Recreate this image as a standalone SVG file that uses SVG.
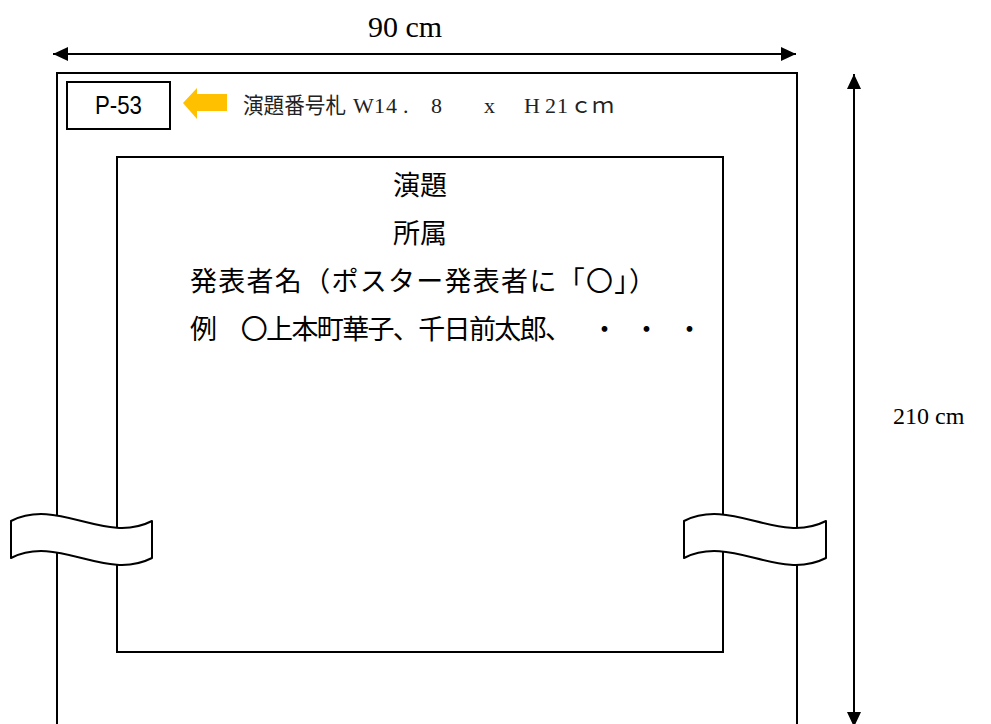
<svg xmlns="http://www.w3.org/2000/svg" width="991" height="724" viewBox="0 0 991 724">
<style>
.frame{fill:none;stroke:#000;stroke-width:2}
.band{fill:#fff;stroke:#000;stroke-width:2;stroke-linejoin:round}
.dim{stroke:#000;stroke-width:2;fill:none}
.serif{font-family:"Liberation Serif","Noto Sans CJK JP",serif;fill:#000}
.mincho{font-family:"Liberation Serif","Noto Sans CJK JP",serif;fill:#222;font-size:22px}
.minchoj{font-family:"Noto Sans CJK JP","Liberation Serif",serif;fill:#222;font-size:22px}
.goth{font-family:"Noto Sans CJK JP","Liberation Sans",sans-serif;fill:#000;font-size:27px}
.num{font-family:"Liberation Sans","Noto Sans CJK JP",sans-serif;fill:#000;font-size:25px}
</style>
<defs>
<marker id="ah" markerUnits="userSpaceOnUse" markerWidth="16" markerHeight="16" refX="15" refY="8" orient="auto-start-reverse" viewBox="0 0 16 16">
<path d="M0,1 L15,8 L0,15 Z" fill="#000"/>
</marker>
</defs>
<rect width="991" height="724" fill="#fff"/>
<g id="board">
<rect class="frame" x="57" y="73" width="740" height="700"/>
</g>
<g id="poster">
<rect class="frame" x="117" y="157" width="606" height="495"/>
<text class="goth" x="420" y="195" text-anchor="middle">演題</text>
<text class="goth" x="420" y="243" text-anchor="middle">所属</text>
<text class="goth" x="190" y="291" textLength="466" lengthAdjust="spacing">発表者名（ポスター発表者に「〇」）</text>
<text class="goth" x="190" y="339"><tspan textLength="382" lengthAdjust="spacing">例　〇上本町華子、千日前太郎、</tspan><tspan x="591">・</tspan><tspan x="633">・</tspan><tspan x="676">・</tspan></text>
</g>
<g id="number-card">
<rect class="frame" x="67" y="82" width="103" height="47"/>
<text class="num" x="95" y="114" textLength="47" lengthAdjust="spacingAndGlyphs">P-53</text>
</g>
<g id="pointer">
<polygon points="183,103 197,88 197,94 227,94 227,111 197,111 197,119" fill="#FFC000"/>
<text class="minchoj" x="243" y="113" textLength="103" lengthAdjust="spacingAndGlyphs">演題番号札</text>
<text class="mincho" y="113"><tspan x="353 374 386 403 431">W14.8</tspan><tspan x="484">x</tspan><tspan x="524 545 557">H21</tspan><tspan x="570 592">ｃｍ</tspan></text>
</g>
<g id="break-left">
<path class="band" d="M11,521 C58,497 105,545 152,521 L152,558 C105,582 58,534 11,558 Z"/>
</g>
<g id="break-right">
<path class="band" d="M684,521 C731,497 779,545 826,521 L826,558 C779,582 731,534 684,558 Z"/>
</g>
<g id="connectors">
<line class="dim" x1="53" y1="54" x2="796" y2="54" marker-start="url(#ah)" marker-end="url(#ah)"/>
<line class="dim" x1="854" y1="74" x2="854" y2="727" marker-start="url(#ah)" marker-end="url(#ah)"/>
<text class="serif" x="405" y="37" font-size="30" text-anchor="middle">90 cm</text>
<text class="serif" x="893" y="424" font-size="24">210 cm</text>
</g>
</svg>
